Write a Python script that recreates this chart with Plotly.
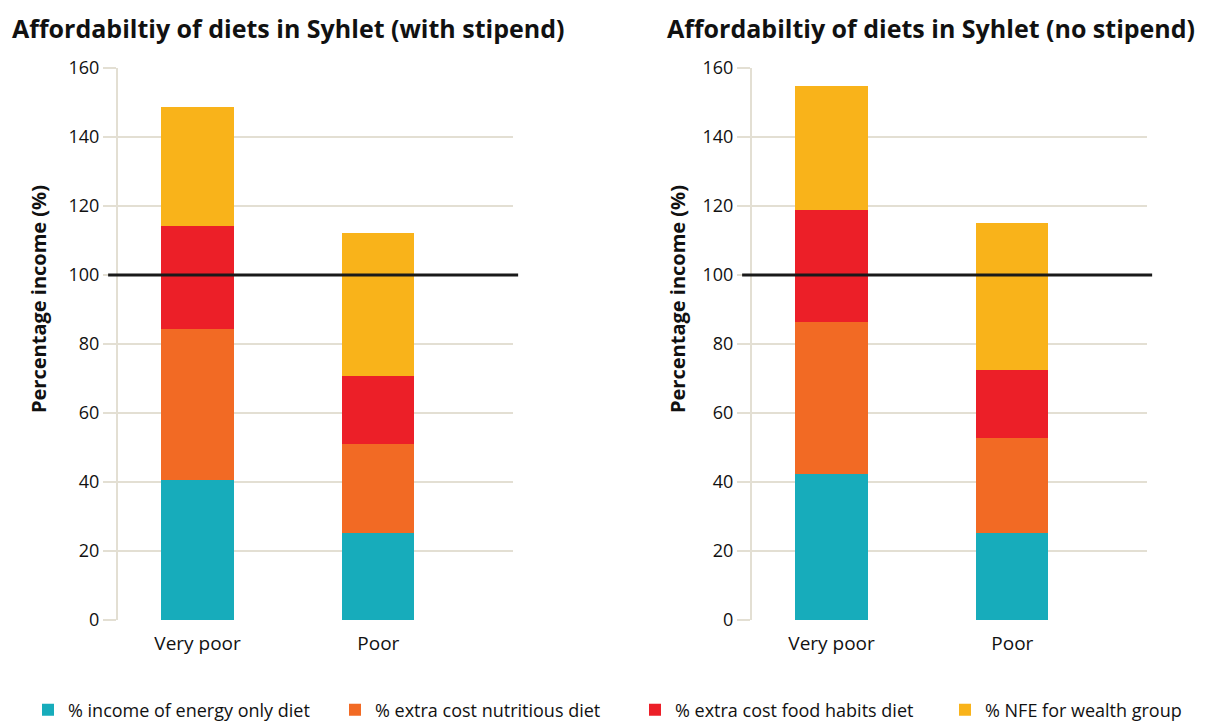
import plotly.graph_objects as go

categories = ["Very poor", "Poor"]
series_names = ["% income of energy only diet", "% extra cost nutritious diet",
                "% extra cost food habits diet", "% NFE for wealth group"]
colors = ["#17acbb", "#f26a24", "#ec1f28", "#f9b31a"]

with_stipend = {
    "% income of energy only diet": [40.6, 25.2],
    "% extra cost nutritious diet": [43.7, 25.8],
    "% extra cost food habits diet": [29.9, 19.7],
    "% NFE for wealth group": [34.4, 41.4],
}
no_stipend = {
    "% income of energy only diet": [42.4, 25.2],
    "% extra cost nutritious diet": [44.0, 27.6],
    "% extra cost food habits diet": [32.4, 19.7],
    "% NFE for wealth group": [36.0, 42.5],
}
titles = ["Affordabiltiy of diets in Syhlet (with stipend)",
          "Affordabiltiy of diets in Syhlet (no stipend)"]
y_ticks = [0, 20, 40, 60, 80, 100, 120, 140, 160]
threshold = 100

FONT = "Open Sans"
OFF = 8  # page body margin
W, H = 1205 - OFF, 723 - OFF
PT, PB = 68 - OFF, 620 - OFF
PH = PB - PT


def px_x(x):
    return (x - OFF) / W


def px_y(y):
    return (PB - (y - OFF)) / PH


fig = go.Figure()
legend_x_px = [28, 335, 635, 945]

for i, data in enumerate([with_stipend, no_stipend]):
    xa = "x" if i == 0 else "x2"
    ya = "y" if i == 0 else "y2"
    for k, (name, col) in enumerate(zip(series_names, colors)):
        fig.add_trace(go.Bar(
            x=categories, y=data[name], name=name, marker_color=col,
            marker_line_width=0, width=0.4, xaxis=xa, yaxis=ya,
            showlegend=(i == 0), legendgroup=name,
            legend="legend" if k == 0 else f"legend{k+1}",
        ))

grid_col = "#e3dfd3"
axis_common = dict(
    showgrid=False, zeroline=False, showline=False,
    tickfont=dict(family=FONT, size=19, color="#111"),
    ticks="", ticklabelstandoff=10, range=[-0.44, 1.745], fixedrange=True,
)
yaxis_common = dict(
    range=[0, 160], tickvals=y_ticks, showgrid=True, gridcolor=grid_col,
    gridwidth=1.5, zeroline=False, showline=True, linecolor=grid_col,
    linewidth=2, ticks="outside", ticklen=13, tickcolor=grid_col,
    tickwidth=1.5, tickfont=dict(family=FONT, size=18, color="#111"),
)
legend_common = dict(orientation="h", y=px_y(710), xanchor="left",
                     yanchor="middle", bgcolor="rgba(0,0,0,0)",
                     font=dict(family=FONT, size=18, color="#111"))
legends = {}
for k, xp in enumerate(legend_x_px):
    key = "legend" if k == 0 else f"legend{k+1}"
    legends[key] = dict(x=px_x(xp), **legend_common)

fig.update_layout(
    width=W, height=H, barmode="stack",
    plot_bgcolor="white", paper_bgcolor="white",
    margin=dict(l=0, r=0, t=PT, b=H - PB, autoexpand=False),
    xaxis=dict(domain=[px_x(118), px_x(513)], anchor="y", **axis_common),
    xaxis2=dict(domain=[px_x(752), px_x(1147)], anchor="y2", **axis_common),
    yaxis=dict(anchor="x", **yaxis_common),
    yaxis2=dict(anchor="x2", **yaxis_common),
    font=dict(family=FONT),
    **legends,
)

# 100% threshold lines
for xr, yr in [("x domain", "y"), ("x2 domain", "y2")]:
    fig.add_shape(type="line", xref=xr, yref=yr, x0=-0.025, x1=1.013,
                  y0=threshold, y1=threshold,
                  line=dict(color="#1a1a1a", width=3), layer="above")

# titles
for xp, t in [(10, titles[0]), (665, titles[1])]:
    fig.add_annotation(text="<b>" + t + "</b>", xref="paper", yref="paper",
                       x=px_x(xp), y=px_y(28), xanchor="left", yanchor="middle",
                       showarrow=False, font=dict(family=FONT, size=25, color="#111"))
# y axis titles
for xp in [38, 677]:
    fig.add_annotation(text="<b>Percentage income (%)</b>", xref="paper", yref="paper",
                       x=px_x(xp), y=px_y(299), textangle=-90,
                       showarrow=False, xanchor="center", yanchor="middle",
                       font=dict(family=FONT, size=20, color="#111"))

fig.write_html("out.html")
